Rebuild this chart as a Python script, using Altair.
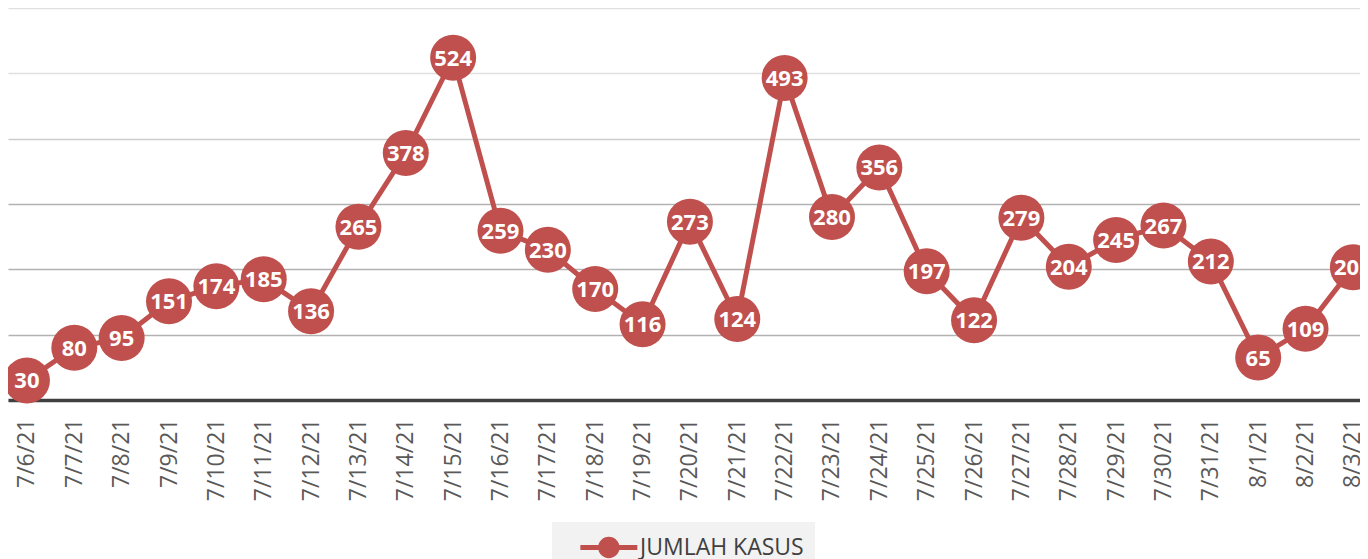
import altair as alt
import pandas as pd

dates = ['7/6/21', '7/7/21', '7/8/21', '7/9/21', '7/10/21', '7/11/21', '7/12/21',
         '7/13/21', '7/14/21', '7/15/21', '7/16/21', '7/17/21', '7/18/21', '7/19/21',
         '7/20/21', '7/21/21', '7/22/21', '7/23/21', '7/24/21', '7/25/21', '7/26/21',
         '7/27/21', '7/28/21', '7/29/21', '7/30/21', '7/31/21', '8/1/21', '8/2/21', '8/3/21']
values = [30, 80, 95, 151, 174, 185, 136, 265, 378, 524, 259, 230, 170, 116, 273, 124,
          493, 280, 356, 197, 122, 279, 204, 245, 267, 212, 65, 109, 203]
series_name = "JUMLAH KASUS"
y_ticks = [0, 100, 200, 300, 400, 500, 600]

df = pd.DataFrame({"idx": list(range(len(dates))), "date": dates, "value": values,
                   "series": series_name})

RED = "#C0504D"
label_expr = "[" + ",".join("'" + d + "'" for d in dates) + "][datum.value]"

x = alt.X("idx:Q",
          scale=alt.Scale(domain=[-0.4, len(dates) - 0.85], nice=False, zero=False),
          axis=alt.Axis(values=list(range(len(dates))), labelExpr=label_expr,
                        labelAngle=-90, labelFont="Open Sans", labelFontSize=23,
                        labelColor="#595959", labelPadding=18, ticks=False,
                        domainColor="#404040", domainWidth=3.5, grid=False,
                        title=None, labelOverlap=False))

grid_color = {"condition": [{"test": "datum.value <= 300", "value": "#b2b2b2"},
                            {"test": "datum.value <= 400", "value": "#cdcdcd"}],
              "value": "#e0e0e0"}

y = alt.Y("value:Q",
          scale=alt.Scale(domain=[0, 600], nice=False),
          axis=alt.Axis(values=y_ticks, labels=False, ticks=False, domain=False,
                        grid=True, gridColor=grid_color, gridWidth=1.5, title=None))

base = alt.Chart(df)

line = base.mark_line(color=RED, strokeWidth=5).encode(x=x, y=y)

legend_path = ("M0.2,-0.175H4.2V0.175H0.2Z "
               "M1.45,0A0.75,0.75 0 1,1 2.95,0A0.75,0.75 0 1,1 1.45,0Z")

points = base.mark_point(filled=True, size=2116, opacity=1, shape="circle").encode(
    x=x, y=y,
    color=alt.Color("series:N", scale=alt.Scale(range=[RED]),
                    legend=alt.Legend(title=None, orient="none", legendX=544, legendY=514,
                                      symbolType=legend_path, symbolSize=812,
                                      symbolStrokeWidth=0, labelFont="Open Sans",
                                      labelFontSize=23, labelColor="#404040",
                                      labelLimit=400,
                                      labelOffset=48, fillColor="#f2f2f2", padding=11,
                                      symbolOpacity=1))
)

labels = base.mark_text(color="white", font="Open Sans", fontWeight="bold",
                        fontSize=22, align="center", baseline="middle", dy=1).encode(
    x=x, y=y, text="value:Q")

chart = alt.layer(line, points, labels).properties(
    width=1352, height=392,
    autosize=alt.AutoSizeParams(type="none"),
    padding={"left": 0, "top": 0, "right": 0, "bottom": 165},
).configure_view(stroke=None)

chart.save("out.html", embed_options={"renderer": "svg", "actions": False})
